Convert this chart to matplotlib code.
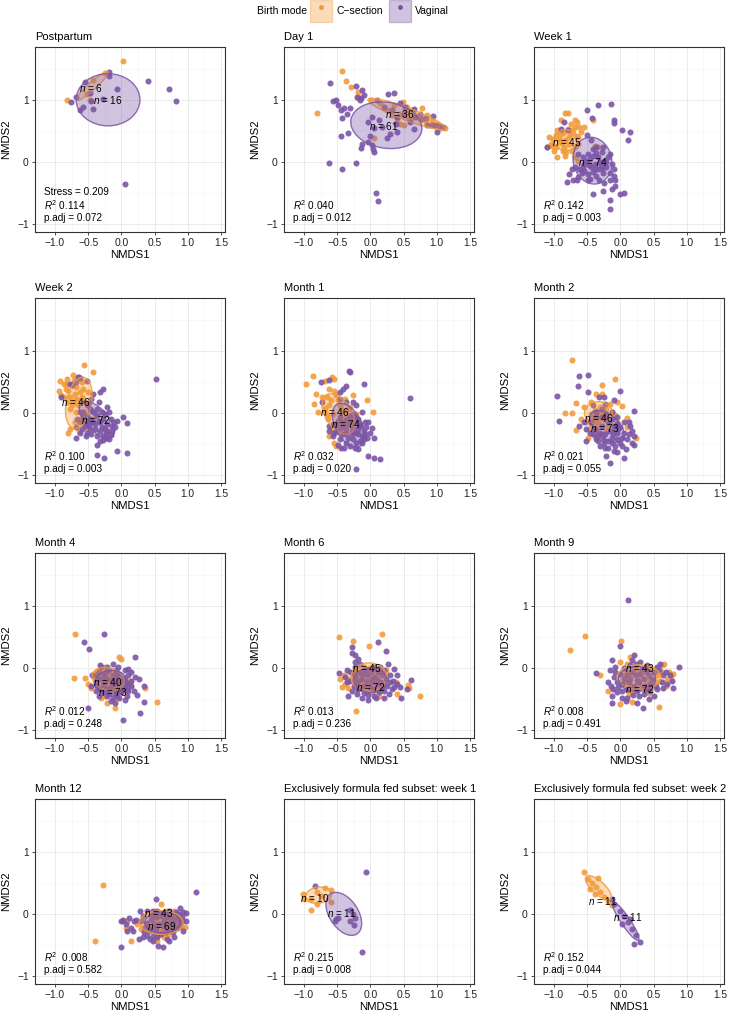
import matplotlib
matplotlib.use("Agg")
import matplotlib.pyplot as plt
from matplotlib.patches import Ellipse, Patch
from matplotlib.lines import Line2D
from matplotlib.legend_handler import HandlerTuple

plt.rcParams['font.family'] = ['Liberation Sans', 'DejaVu Sans']
plt.rcParams['mathtext.fontset'] = 'custom'
plt.rcParams['mathtext.rm'] = 'Liberation Sans'
plt.rcParams['mathtext.it'] = 'Liberation Sans:italic'

ORANGE = '#F39B3A'
PURPLE = '#7B55A6'

titles = ['Postpartum', 'Day 1', 'Week 1', 'Week 2', 'Month 1', 'Month 2',
          'Month 4', 'Month 6', 'Month 9', 'Month 12',
          'Exclusively formula fed subset: week 1',
          'Exclusively formula fed subset: week 2']

r2 = ['0.114', '0.040', '0.142', '0.100', '0.032', '0.021',
      '0.012', '0.013', '0.008', '0.008', '0.215', '0.152']
padj = ['0.072', '0.012', '0.003', '0.003', '0.020', '0.055',
        '0.248', '0.236', '0.491', '0.582', '0.008', '0.044']
stress = '0.209'
n_cs = [6, 36, 45, 46, 46, 46, 40, 45, 43, 43, 10, 11]
n_vag = [16, 61, 74, 72, 74, 73, 73, 72, 72, 69, 11, 11]

# C-section / vaginal points per panel (NMDS1, NMDS2)
pp_cs = [(0.02, 1.63), (-0.82, 1.0), (-0.42, 1.32), (-0.24, 1.43), (-0.51, 1.09), (-0.47, 1.0)]
pp_vag = [(-0.76, 0.97), (-0.55, 1.29), (-0.18, 1.45), (-0.18, 1.38), (-0.07, 1.17), (0.40, 1.30),
          (0.71, 1.18), (0.82, 0.98), (0.06, -0.35), (-0.63, 0.84), (-0.58, 0.88), (-0.43, 0.85),
          (-0.47, 1.11), (-0.45, 0.98), (-0.28, 1.02), (-0.68, 1.04)]

d1_cs = [(-0.42, 1.46), (-0.36, 1.31), (-0.29, 1.20), (-0.19, 1.12), (-0.19, 1.03), (-0.81, 0.78),
         (0.05, 0.38), (0.01, 1.0), (0.49, 0.97), (0.78, 0.87), (0.55, 0.88), (0.45, 0.77),
         (0.40, 0.69), (0.65, 0.77), (0.85, 0.75), (0.93, 0.68), (1.0, 0.61), (1.08, 0.56),
         (1.12, 0.55), (1.05, 0.54), (0.97, 0.58), (0.83, 0.64), (0.75, 0.69), (0.70, 0.72),
         (0.60, 0.67), (0.50, 0.59), (0.45, 0.61), (0.33, 0.75), (0.25, 0.83), (0.15, 0.94),
         (0.55, 0.80), (0.62, 0.84), (0.35, 0.91), (0.57, 0.72), (0.90, 0.60), (0.78, 0.71)]
d1_vag = [(-0.61, 1.27), (-0.56, 0.98), (-0.51, 0.99), (-0.49, 0.91), (-0.44, 0.84), (-0.40, 0.87),
          (-0.42, 0.70), (-0.35, 0.77), (-0.30, 0.87), (-0.22, 1.22), (-0.12, 1.16), (-0.09, 1.08),
          (-0.14, 1.03), (-0.44, 0.41), (-0.33, 0.47), (-0.63, -0.02), (-0.42, -0.12), (-0.21, -0.02),
          (-0.14, 0.22), (-0.12, 0.28), (-0.04, 0.32), (-0.01, 0.42), (0.02, 0.27), (0.05, 0.16),
          (0.04, 0.21), (0.08, -0.50), (0.11, -0.63), (-0.03, 0.64), (0.05, 0.54), (0.17, 0.56),
          (0.25, 0.38), (0.29, 0.45), (0.26, 1.10), (0.36, 1.11), (0.45, 0.94), (0.52, 0.89),
          (0.65, 0.85), (0.67, 0.72), (0.78, 0.69), (0.83, 0.71), (0.95, 0.74), (0.93, 0.59),
          (1.03, 0.57), (0.98, 0.60), (1.09, 0.56), (0.38, 0.61), (0.60, 0.64), (0.50, 0.77),
          (0.33, 0.83), (0.20, 0.88), (0.10, 0.99), (-0.20, 1.04), (0.85, 0.59), (0.75, 0.77),
          (0.40, 0.72), (0.13, 0.67), (0.03, 0.72), (-0.15, 0.99), (0.40, 0.48), (0.65, 0.53),
          (1.0, 0.48)]

w1_cs = [(-0.84, 0.78), (-0.79, 0.79), (-0.65, 0.64), (-0.41, 0.67), (-0.90, 0.67), (-1.08, 0.40),
         (-1.10, 0.24), (-1.05, 0.29), (-0.97, 0.24), (-0.95, 0.08), (-0.87, 0.18), (-0.82, 0.16),
         (-0.90, 0.45), (-0.79, 0.53), (-0.72, 0.51), (-0.69, 0.56), (-0.75, 0.45), (-0.84, 0.35),
         (-0.77, 0.29), (-0.69, 0.24), (-0.64, 0.29), (-0.85, 0.24), (-0.91, 0.32), (-1.01, 0.37),
         (-0.78, 0.40), (-0.64, 0.40), (-0.59, 0.48), (-0.85, 0.48), (-0.95, 0.51), (-0.97, 0.43),
         (-0.73, 0.17), (-1.0, 0.18), (-0.64, 0.02), (-0.68, 0.08), (-0.38, 0.25), (-0.34, 0.24),
         (-0.69, 0.68), (-0.75, 0.61), (-0.67, 0.41), (-0.62, 0.56), (-0.83, 0.10), (-1.03, 0.25),
         (-0.54, 0.56), (-0.92, 0.36), (-0.88, 0.30)]
w1_vag = [(-0.50, 0.83), (-0.34, 0.92), (-0.14, 0.93), (-0.42, 0.71), (-0.10, 0.68), (-0.10, 0.62),
          (0.02, 0.52), (0.14, 0.48), (0.12, 0.35), (-0.85, 0.64), (-0.79, 0.51), (-0.90, 0.53),
          (-1.10, 0.24), (-0.50, 0.44), (-0.44, 0.35), (-0.36, 0.24), (-0.18, 0.08), (-0.13, -0.04),
          (-0.10, -0.11), (-0.15, -0.18), (-0.26, -0.18), (-0.33, -0.11), (-0.44, -0.09), (-0.54, -0.03),
          (-0.62, -0.11), (-0.58, -0.18), (-0.64, -0.25), (-0.77, -0.19), (-0.81, -0.33), (-0.72, -0.30),
          (-0.65, -0.30), (-0.49, -0.30), (-0.41, -0.51), (-0.24, -0.34), (-0.26, -0.47), (-0.13, -0.44),
          (-0.08, -0.39), (-0.16, -0.61), (-0.15, -0.76), (-0.01, -0.52), (0.06, -0.50), (-0.08, -0.29),
          (-0.15, 0.13), (-0.24, 0.02), (-0.33, 0.08), (-0.41, 0.10), (-0.49, 0.13), (-0.51, 0.02),
          (-0.46, 0.05), (-0.38, -0.03), (-0.29, -0.06), (-0.21, -0.09), (-0.41, -0.17), (-0.36, -0.22),
          (-0.49, -0.19), (-0.56, -0.09), (-0.56, 0.08), (-0.64, 0.13), (-0.54, -0.15), (-0.26, 0.24),
          (-0.28, 0.16), (-0.41, 0.21), (-0.15, -0.30), (-0.32, -0.30), (-0.09, -0.22), (-0.36, 0.14),
          (-0.21, -0.01), (-0.45, -0.28), (-0.69, -0.09), (-0.73, -0.11), (-0.27, -0.11), (-0.38, -0.11),
          (-0.30, 0.00), (-0.47, -0.05)]

w2_cs = [(-0.56, 0.77), (-0.42, 0.66), (-0.82, 0.55), (-0.93, 0.51), (-0.86, 0.47), (-0.72, 0.53),
         (-0.94, 0.36), (-0.91, 0.28), (-0.83, 0.39), (-0.75, 0.45), (-0.68, 0.42), (-0.63, 0.34),
         (-0.70, 0.31), (-0.78, 0.26), (-0.73, 0.17), (-0.60, 0.26), (-0.65, 0.12), (-0.78, 0.07),
         (-0.52, 0.12), (-0.57, 0.01), (-0.63, -0.10), (-0.55, -0.13), (-0.70, -0.15), (-0.81, -0.32),
         (-0.64, -0.30), (-0.77, -0.26), (-0.51, -0.04), (-0.47, -0.15), (-0.68, 0.01), (-0.81, 0.35),
         (-0.86, 0.26), (-0.60, 0.50), (-0.64, 0.58), (-0.73, 0.61), (-0.57, 0.39), (-0.50, 0.34),
         (-0.75, 0.12), (-0.55, 0.17), (-0.45, 0.04), (-0.69, 0.23), (-0.81, 0.17), (-0.63, 0.20),
         (-0.39, -0.07), (-0.52, -0.25), (-0.58, -0.18), (-0.83, 0.47)]
w2_vag = [(0.52, 0.54), (-0.65, 0.58), (-0.62, 0.56), (-0.51, 0.52), (-0.78, 0.46), (-0.91, 0.26),
          (-0.32, 0.34), (-0.27, 0.39), (-0.42, 0.31), (-0.45, 0.23), (-0.34, 0.17), (-0.22, 0.09),
          (-0.29, 0.01), (-0.37, -0.04), (-0.47, 0.07), (-0.52, -0.07), (-0.42, -0.15), (-0.32, -0.15),
          (-0.22, -0.18), (-0.11, -0.15), (-0.07, -0.13), (0.02, -0.07), (0.08, -0.17), (-0.09, -0.23),
          (-0.14, -0.29), (-0.23, -0.34), (-0.23, -0.40), (-0.27, -0.43), (-0.19, -0.42), (-0.37, -0.37),
          (-0.45, -0.34), (-0.52, -0.32), (-0.60, -0.26), (-0.68, -0.23), (-0.69, -0.40), (-0.63, -0.32),
          (-0.55, -0.21), (-0.48, -0.20), (-0.39, -0.26), (-0.32, -0.29), (-0.37, -0.51), (-0.36, -0.68),
          (-0.26, -0.72), (-0.06, -0.61), (0.09, -0.64), (-0.22, -0.30), (-0.28, -0.10), (-0.37, 0.07),
          (-0.50, 0.12), (-0.57, 0.01), (-0.67, -0.10), (-0.63, -0.15), (-0.47, -0.10), (-0.39, -0.18),
          (-0.52, -0.15), (-0.24, -0.26), (-0.29, -0.23), (-0.34, -0.13), (-0.16, -0.10), (-0.24, -0.02),
          (-0.19, 0.01), (-0.42, 0.01), (-0.57, -0.07), (-0.63, 0.01), (-0.75, 0.45), (-0.68, 0.50),
          (-0.27, -0.37), (-0.16, -0.36), (-0.47, -0.26), (-0.53, -0.37), (-0.32, -0.45), (-0.14, -0.21)]

m1_cs = [(-0.86, 0.59), (-0.97, 0.46), (-0.57, 0.58), (-0.54, 0.55), (-0.68, 0.51), (-0.82, 0.31),
         (-0.63, 0.39), (-0.54, 0.35), (-0.51, 0.28), (-0.85, 0.15), (-0.79, 0.02), (-0.68, 0.08),
         (-0.26, 0.29), (-0.05, 0.21), (0.04, 0.01), (-0.64, -0.10), (-0.59, -0.26), (-0.54, -0.48),
         (-0.52, -0.53), (-0.46, 0.12), (-0.41, 0.01), (-0.33, 0.07), (-0.26, -0.02), (-0.36, -0.07),
         (-0.46, -0.10), (-0.56, -0.02), (-0.62, 0.12), (-0.69, 0.01), (-0.59, 0.20), (-0.49, 0.20),
         (-0.41, -0.15), (-0.28, -0.15), (-0.51, -0.21), (-0.46, -0.32), (-0.31, 0.09), (-0.23, -0.10),
         (-0.38, 0.23), (-0.66, 0.26), (-0.73, 0.26), (-0.52, 0.30), (-0.15, -0.21), (-0.62, -0.37),
         (-0.35, -0.02), (-0.44, 0.07), (-0.64, -0.03), (-0.21, -0.02)]
m1_vag = [(-0.32, 0.67), (-0.31, 0.65), (-0.09, 0.46), (-0.74, 0.50), (-0.63, 0.53), (-0.36, 0.43),
          (0.60, 0.24), (-0.73, 0.18), (-0.46, 0.23), (-0.36, 0.17), (-0.31, -0.07), (-0.23, -0.15),
          (-0.15, -0.21), (-0.08, -0.15), (0.03, -0.25), (0.05, -0.40), (-0.05, -0.41), (-0.13, -0.37),
          (-0.21, -0.32), (-0.28, -0.29), (-0.36, -0.26), (-0.44, -0.25), (-0.51, -0.20), (-0.63, -0.29),
          (-0.56, -0.37), (-0.46, -0.42), (-0.44, -0.56), (-0.40, -0.56), (-0.31, -0.53), (-0.23, -0.56),
          (-0.18, -0.58), (-0.21, -0.48), (-0.13, -0.48), (-0.26, -0.42), (-0.33, -0.40), (-0.41, -0.34),
          (-0.03, -0.70), (0.05, -0.73), (0.15, -0.74), (-0.21, -0.90), (-0.51, -0.29), (-0.44, -0.15),
          (-0.37, -0.11), (-0.28, -0.03), (-0.18, -0.10), (-0.10, -0.29), (-0.18, -0.34), (-0.26, -0.23),
          (-0.33, -0.18), (-0.41, -0.20), (-0.49, -0.13), (-0.56, -0.18), (-0.13, 0.01), (-0.21, 0.12),
          (-0.26, 0.17), (-0.46, 0.34), (-0.41, 0.38), (-0.03, -0.15), (0.0, -0.32), (-0.09, -0.42),
          (-0.36, -0.48), (-0.49, -0.51), (-0.15, -0.45), (-0.27, -0.34), (-0.37, -0.32), (-0.18, -0.26),
          (-0.23, -0.07), (-0.31, -0.15), (-0.15, -0.18), (-0.46, -0.07), (-0.54, -0.32), (-0.62, -0.21),
          (-0.08, -0.34), (-0.06, -0.23)]

m2_cs = [(-0.73, 0.85), (-0.08, 0.54), (-0.27, 0.45), (-0.67, 0.16), (-0.83, -0.01), (-0.73, -0.01),
         (-0.67, -0.27), (-0.36, 0.31), (-0.28, 0.30), (-0.44, 0.18), (-0.55, 0.09), (-0.59, -0.10),
         (-0.49, -0.13), (-0.44, -0.20), (-0.38, -0.15), (-0.33, -0.07), (-0.26, -0.02), (-0.21, 0.07),
         (-0.13, 0.02), (-0.08, -0.04), (0.03, 0.11), (0.10, -0.09), (0.10, -0.23), (0.23, -0.40),
         (-0.38, 0.05), (-0.44, -0.02), (-0.35, -0.23), (-0.49, -0.40), (-0.28, -0.34), (-0.21, -0.29),
         (-0.15, -0.15), (-0.33, -0.15), (-0.41, -0.07), (-0.31, 0.09), (-0.15, 0.15), (-0.05, 0.17),
         (-0.36, -0.29), (-0.52, -0.15), (-0.25, -0.10), (-0.18, -0.21), (-0.10, -0.26), (-0.38, -0.37),
         (-0.05, -0.15), (-0.23, -0.02), (-0.46, -0.26), (-0.33, 0.01)]
m2_vag = [(-0.63, 0.59), (-0.48, 0.61), (-0.64, 0.43), (-0.95, 0.27), (-0.93, -0.13), (-0.49, 0.34),
          (-0.32, 0.25), (-0.01, 0.36), (-0.10, 0.20), (0.21, 0.03), (-0.23, 0.15), (-0.21, -0.02),
          (-0.28, -0.07), (-0.36, -0.07), (-0.44, -0.14), (-0.52, -0.26), (-0.51, -0.45), (-0.37, -0.42),
          (-0.33, -0.45), (-0.25, -0.48), (-0.23, -0.56), (-0.13, -0.49), (-0.08, -0.53), (-0.18, -0.45),
          (-0.05, -0.42), (0.03, -0.40), (0.05, -0.32), (0.13, -0.34), (0.18, -0.29), (0.21, -0.37),
          (0.18, -0.48), (0.21, -0.51), (0.08, -0.59), (0.06, -0.72), (-0.05, -0.63), (-0.21, -0.70),
          (-0.15, -0.80), (-0.10, -0.61), (-0.21, -0.07), (-0.13, -0.10), (-0.05, -0.18), (0.0, -0.23),
          (-0.10, -0.21), (-0.15, -0.29), (-0.23, -0.34), (-0.31, -0.32), (-0.38, -0.26), (-0.46, -0.32),
          (-0.28, -0.21), (-0.19, -0.15), (-0.11, -0.34), (-0.05, -0.32), (0.0, -0.48), (0.10, -0.42),
          (-0.13, -0.40), (-0.26, -0.42), (-0.18, -0.56), (-0.36, 0.01), (-0.28, 0.07), (-0.41, 0.12),
          (-0.25, 0.25), (-0.13, 0.01), (0.05, -0.15), (-0.05, -0.07), (-0.54, -0.15), (-0.33, -0.38),
          (-0.03, -0.26), (0.15, -0.21), (-0.41, -0.34), (-0.31, -0.53), (0.03, -0.53), (0.13, -0.15),
          (-0.62, -0.21)]

m4_cs = [(-0.70, 0.54), (-0.72, -0.17), (-0.55, -0.17), (-0.50, -0.26), (-0.46, -0.33), (-0.03, 0.17),
         (0.0, 0.14), (0.54, -0.55), (-0.08, -0.49), (-0.10, -0.64), (-0.22, -0.56), (-0.38, -0.07),
         (-0.33, -0.12), (-0.28, -0.07), (-0.23, -0.10), (-0.18, -0.12), (-0.10, -0.17), (-0.05, -0.21),
         (-0.15, -0.23), (-0.23, -0.29), (-0.31, -0.34), (-0.13, -0.34), (0.0, -0.29), (0.13, -0.21),
         (0.14, -0.29), (0.36, -0.33), (0.04, -0.38), (-0.05, -0.42), (-0.28, -0.21), (-0.36, -0.23),
         (-0.41, -0.15), (-0.33, -0.04), (-0.10, -0.07), (-0.24, -0.45), (-0.18, -0.39), (-0.31, -0.48),
         (0.05, -0.18), (-0.22, -0.18), (-0.38, -0.23), (-0.26, 0.01)]
m4_vag = [(-0.26, 0.54), (-0.56, 0.41), (-0.49, 0.31), (-0.32, 0.05), (0.21, 0.17), (0.06, -0.03),
          (0.10, -0.12), (-0.50, -0.65), (0.02, -0.84), (0.28, -0.72), (0.34, -0.29), (0.34, -0.55),
          (0.24, -0.44), (0.19, -0.38), (0.08, -0.45), (0.05, -0.51), (-0.03, -0.48), (-0.10, -0.57),
          (-0.13, -0.49), (-0.22, -0.45), (-0.33, -0.34), (-0.38, -0.23), (-0.44, -0.12), (-0.38, -0.11),
          (-0.33, -0.07), (-0.23, -0.07), (-0.18, -0.04), (-0.13, -0.11), (-0.08, -0.04), (-0.03, -0.10),
          (-0.02, -0.21), (-0.08, -0.26), (-0.15, -0.30), (-0.23, -0.34), (-0.28, -0.39), (-0.18, -0.42),
          (-0.10, -0.37), (0.03, -0.31), (0.08, -0.26), (0.04, -0.21), (0.15, -0.21), (-0.05, 0.01),
          (-0.13, 0.06), (-0.21, 0.01), (-0.28, -0.17), (-0.33, -0.18), (-0.24, -0.23), (-0.14, -0.19),
          (-0.05, -0.34), (0.10, -0.37), (0.0, -0.39), (-0.36, -0.29), (-0.27, -0.28), (-0.21, -0.18),
          (-0.09, -0.18), (-0.38, -0.37), (-0.46, -0.29), (-0.15, -0.53), (-0.08, -0.44), (0.10, -0.02),
          (0.15, -0.07), (0.21, -0.15), (0.26, -0.18), (-0.03, -0.23), (-0.31, 0.01), (-0.26, -0.12),
          (-0.13, -0.26), (0.02, -0.17), (-0.19, -0.34), (-0.33, -0.45), (0.15, -0.29), (-0.07, -0.11),
          (0.08, -0.34)]

m6_cs = [(-0.47, 0.50), (-0.26, 0.43), (0.18, 0.55), (-0.02, 0.35), (-0.22, -0.69), (0.74, -0.45),
         (0.57, -0.28), (0.58, -0.33), (0.40, -0.42), (0.38, -0.23), (0.23, -0.03), (0.24, -0.10),
         (-0.43, -0.31), (-0.38, -0.26), (-0.33, -0.32), (-0.39, -0.12), (-0.34, -0.18), (-0.26, -0.07),
         (-0.20, -0.11), (-0.14, -0.17), (-0.08, -0.07), (-0.03, -0.12), (0.03, -0.18), (0.08, -0.11),
         (0.13, -0.21), (0.15, -0.29), (0.10, -0.35), (0.04, -0.33), (-0.03, -0.29), (-0.10, -0.22),
         (-0.15, -0.26), (-0.23, -0.23), (-0.28, -0.17), (-0.18, -0.02), (-0.10, 0.01), (0.0, -0.01),
         (0.09, -0.03), (0.15, -0.07), (-0.05, -0.37), (-0.13, -0.34), (0.03, -0.39), (0.13, -0.45),
         (-0.45, -0.18), (0.20, -0.23), (-0.20, -0.34)]
m6_vag = [(0.12, 0.41), (-0.28, 0.34), (-0.27, 0.24), (-0.23, 0.20), (0.24, 0.27), (0.26, 0.06),
          (0.36, -0.02), (0.40, -0.12), (0.61, -0.19), (-0.47, -0.08), (-0.35, -0.03), (-0.33, -0.45),
          (-0.04, -0.51), (0.09, -0.48), (0.32, -0.34), (0.44, -0.31), (0.46, -0.48), (0.55, -0.34),
          (0.28, -0.42), (0.20, -0.38), (0.13, -0.39), (0.05, -0.45), (-0.03, -0.44), (-0.10, -0.41),
          (-0.18, -0.34), (-0.25, -0.29), (-0.30, -0.21), (-0.23, -0.15), (-0.16, -0.08), (-0.10, -0.03),
          (-0.05, -0.11), (0.01, -0.07), (0.06, -0.14), (0.11, -0.07), (0.18, -0.12), (0.24, -0.18),
          (0.29, -0.23), (0.34, -0.21), (0.25, -0.29), (0.18, -0.31), (0.10, -0.26), (0.03, -0.23),
          (-0.05, -0.21), (-0.13, -0.18), (-0.20, -0.23), (-0.25, -0.10), (-0.30, -0.07), (-0.38, -0.15),
          (-0.18, -0.21), (-0.09, -0.29), (-0.01, -0.31), (0.06, -0.34), (0.15, -0.23), (0.21, -0.03),
          (0.14, 0.01), (0.05, 0.01), (-0.16, 0.06), (-0.23, 0.01), (0.35, -0.31), (0.40, -0.26),
          (-0.20, -0.42), (-0.13, -0.48), (-0.28, -0.38), (-0.06, -0.04), (0.03, -0.18), (0.10, -0.18),
          (-0.13, -0.10), (-0.35, -0.23), (0.30, -0.11), (0.20, -0.48), (-0.23, 0.09), (-0.18, 0.15)]

m9_cs = [(-0.76, 0.29), (-0.53, 0.51), (0.01, 0.44), (-0.31, -0.11), (-0.18, -0.37), (0.0, -0.58),
         (0.18, -0.55), (0.58, -0.63), (0.14, 0.17), (0.66, 0.06), (0.63, 0.05), (0.73, -0.06),
         (0.76, -0.18), (0.68, -0.29), (0.60, -0.21), (0.53, -0.23), (0.45, -0.18), (0.40, -0.26),
         (0.33, -0.15), (0.25, -0.07), (0.18, -0.12), (0.10, -0.07), (0.04, -0.12), (0.08, -0.23),
         (0.15, -0.29), (0.23, -0.34), (0.30, -0.31), (0.38, -0.34), (0.48, -0.31), (0.55, -0.12),
         (0.63, -0.07), (0.50, -0.02), (0.43, 0.01), (0.35, -0.02), (-0.01, 0.09), (0.10, 0.06),
         (0.20, 0.01), (0.25, -0.23), (0.18, -0.37), (0.70, -0.18), (0.79, -0.10), (0.43, -0.40),
         (0.13, -0.42)]
m9_vag = [(0.11, 1.10), (0.0, 0.36), (-0.36, -0.08), (-0.13, 0.12), (0.20, 0.20), (0.88, 0.01),
          (0.79, -0.33), (0.34, -0.65), (-0.13, -0.46), (-0.13, -0.56), (0.08, -0.53), (-0.15, -0.04),
          (-0.08, -0.07), (-0.10, -0.15), (-0.05, -0.23), (-0.04, -0.31), (0.03, -0.38), (0.10, -0.34),
          (0.20, -0.29), (0.28, -0.23), (0.35, -0.18), (0.43, -0.11), (0.50, -0.07), (0.58, -0.04),
          (0.64, -0.11), (0.69, -0.06), (0.75, -0.11), (0.78, -0.21), (0.64, -0.33), (0.55, -0.34),
          (0.45, -0.38), (0.35, -0.42), (0.28, -0.45), (0.19, -0.44), (0.10, -0.48), (0.03, -0.48),
          (0.15, -0.18), (0.23, -0.12), (0.30, -0.10), (0.38, -0.07), (0.45, -0.26), (0.53, -0.29),
          (0.35, -0.29), (0.25, -0.37), (0.13, -0.23), (0.05, -0.18), (-0.01, -0.10), (0.06, -0.01),
          (0.14, 0.04), (0.23, 0.06), (0.30, 0.09), (0.40, 0.05), (0.60, 0.06), (0.55, 0.01),
          (0.48, -0.18), (0.25, -0.20), (0.18, -0.07), (0.10, -0.11), (0.03, -0.26), (-0.05, -0.39),
          (-0.14, -0.30), (-0.08, 0.01), (0.40, -0.34), (0.70, -0.26), (0.63, -0.23), (0.50, -0.45),
          (0.43, -0.50), (0.33, -0.02), (-0.18, -0.23), (-0.11, -0.34), (0.18, 0.12), (0.25, -0.56)]

m12_cs = [(-0.27, 0.46), (-0.39, -0.43), (0.15, -0.43), (0.07, -0.22), (0.03, -0.11), (0.08, -0.12),
          (0.60, 0.16), (0.96, -0.21), (0.92, -0.21), (0.54, -0.43), (0.44, 0.03), (0.52, 0.03),
          (0.59, 0.0), (0.67, -0.03), (0.74, 0.0), (0.79, -0.05), (0.84, -0.11), (0.89, -0.15),
          (0.77, -0.16), (0.69, -0.14), (0.62, -0.11), (0.54, -0.08), (0.47, -0.11), (0.39, -0.16),
          (0.33, -0.21), (0.42, -0.24), (0.49, -0.27), (0.58, -0.30), (0.67, -0.27), (0.74, -0.24),
          (0.82, -0.22), (0.84, -0.03), (0.79, 0.05), (0.69, 0.05), (0.62, -0.24), (0.53, -0.35),
          (0.64, -0.38), (0.24, -0.16), (0.29, -0.24), (0.72, -0.32), (0.89, -0.07), (0.54, -0.19),
          (0.69, -0.06)]
m12_vag = [(1.13, 0.36), (0.52, 0.24), (0.0, -0.54), (0.02, -0.10), (0.11, -0.07), (0.22, -0.10),
           (0.28, 0.04), (0.38, 0.04), (0.48, 0.05), (0.47, -0.43), (0.55, -0.51), (0.63, -0.54),
           (0.27, -0.41), (0.17, -0.27), (0.89, 0.10), (0.93, 0.03), (0.98, 0.01), (0.92, -0.05),
           (0.93, -0.27), (0.83, -0.22), (0.74, -0.24), (0.67, -0.30), (0.59, -0.32), (0.52, -0.27),
           (0.44, -0.22), (0.38, -0.15), (0.44, -0.08), (0.52, -0.05), (0.59, -0.03), (0.67, -0.05),
           (0.74, -0.11), (0.82, -0.08), (0.87, 0.0), (0.82, 0.03), (0.72, 0.05), (0.64, 0.03),
           (0.57, -0.16), (0.49, -0.16), (0.42, -0.27), (0.34, -0.30), (0.39, -0.35), (0.47, -0.35),
           (0.54, -0.38), (0.62, -0.19), (0.69, -0.19), (0.77, -0.16), (0.78, -0.30), (0.87, -0.19),
           (0.69, -0.41), (0.30, -0.11), (0.33, -0.03), (0.54, 0.05), (0.92, -0.11), (0.97, -0.11),
           (0.14, -0.22), (0.09, -0.27), (0.75, -0.03), (0.47, -0.03), (0.64, -0.11), (0.52, -0.22),
           (0.43, -0.41), (0.32, -0.38), (0.79, -0.38), (0.19, -0.11), (0.35, -0.22), (0.07, -0.16),
           (0.72, -0.43), (0.89, -0.14), (-0.01, -0.11)]

f1_cs = [(-1.01, 0.32), (-0.69, 0.42), (-0.60, 0.38), (-1.0, 0.24), (-0.90, 0.24), (-0.80, 0.35),
         (-0.81, 0.16), (-0.90, 0.07), (-0.59, 0.19), (-0.73, 0.28)]
f1_vag = [(-0.84, 0.45), (-0.07, 0.68), (-0.13, -0.61), (-0.53, -0.11), (-0.49, -0.06), (-0.31, 0.07),
          (-0.30, -0.11), (-0.23, -0.07), (-0.24, -0.18), (-0.26, 0.0), (-0.51, -0.08)]

f2_cs = [(-0.54, 0.68), (-0.49, 0.56), (-0.43, 0.50), (-0.36, 0.43), (-0.30, 0.35), (-0.24, 0.27),
         (-0.46, 0.40), (-0.34, 0.58), (-0.19, 0.21), (-0.13, 0.14), (-0.38, 0.32)]
f2_vag = [(-0.09, 0.16), (-0.01, 0.04), (0.06, -0.04), (0.11, -0.13), (0.17, -0.25), (0.23, -0.34),
          (0.29, -0.46), (0.14, -0.09), (0.02, -0.17), (-0.13, 0.24), (0.21, -0.49)]

cs_points = [pp_cs, d1_cs, w1_cs, w2_cs, m1_cs, m2_cs, m4_cs, m6_cs, m9_cs, m12_cs, f1_cs, f2_cs]
vag_points = [pp_vag, d1_vag, w1_vag, w2_vag, m1_vag, m2_vag, m4_vag, m6_vag, m9_vag, m12_vag, f1_vag, f2_vag]

# ellipses: (centre x, centre y, full width, full height, angle in degrees)
cs_ellipse = [(-0.44, 1.22, 0.66, 0.12, 44), (0.55, 0.77, 1.26, 0.2, -22), (-0.82, 0.35, 0.36, 0.34, 0),
              (-0.64, 0.16, 0.38, 0.84, -10), (-0.48, -0.02, 0.72, 0.40, -60), (-0.33, 0.0, 0.42, 0.36, 0),
              (-0.20, -0.18, 0.50, 0.36, -20), (-0.02, -0.15, 0.54, 0.46, 0), (0.28, -0.15, 0.66, 0.40, 0),
              (0.60, -0.14, 0.66, 0.38, 0), (-0.78, 0.30, 0.40, 0.26, 10), (-0.33, 0.42, 0.52, 0.2, -45)]
vag_ellipse = [(-0.20, 1.0, 0.96, 0.84, 0), (0.24, 0.59, 1.08, 0.74, -10), (-0.42, 0.02, 0.58, 0.76, 10),
               (-0.37, -0.11, 0.72, 0.34, -50), (-0.33, -0.20, 0.76, 0.40, -65), (-0.20, -0.22, 0.64, 0.36, -45),
               (-0.15, -0.24, 0.50, 0.40, 0), (0.0, -0.20, 0.50, 0.40, 0), (0.25, -0.18, 0.56, 0.40, 0),
               (0.62, -0.14, 0.54, 0.34, 0), (-0.40, 0.0, 0.76, 0.44, -60), (0.08, -0.12, 0.72, 0.14, -58)]

# n label positions (group centroids)
cs_label = [(-0.45, 1.19), (0.44, 0.77), (-0.80, 0.32), (-0.68, 0.17), (-0.54, 0.01), (-0.33, -0.08),
            (-0.20, -0.23), (-0.05, -0.01), (0.29, -0.01), (0.56, 0.01), (-0.83, 0.26), (-0.27, 0.21)]
vag_label = [(-0.20, 1.0), (0.20, 0.58), (-0.42, 0.0), (-0.39, -0.11), (-0.37, -0.18), (-0.24, -0.25),
             (-0.13, -0.39), (0.0, -0.31), (0.29, -0.34), (0.61, -0.19), (-0.43, 0.02), (0.11, -0.05)]

fig = plt.figure(figsize=(7.3, 10.17), dpi=100)
W, H = 730, 1017
col_left = [35, 284, 534]
row_top = [47, 298, 553, 799]
aw, ah = 190, 185

for i in range(12):
    r, c = divmod(i, 3)
    ax = fig.add_axes([col_left[c] / W, 1 - (row_top[r] + ah) / H, aw / W, ah / H])
    ax.set_xlim(-1.3, 1.56)
    ax.set_ylim(-1.13, 1.85)
    ax.set_xticks([-1.0, -0.5, 0.0, 0.5, 1.0, 1.5])
    ax.set_xticklabels(['\u22121.0', '\u22120.5', '0.0', '0.5', '1.0', '1.5'])
    ax.set_yticks([-1, 0, 1])
    ax.set_yticklabels(['\u22121', '0', '1'])
    ax.set_xticks([-1.25, -0.75, -0.25, 0.25, 0.75, 1.25], minor=True)
    ax.set_yticks([-0.5, 0.5, 1.5], minor=True)
    ax.grid(which='major', color='#EBEBEB', linewidth=0.7)
    ax.grid(which='minor', color='#F4F4F4', linewidth=0.4)
    ax.set_axisbelow(True)
    ax.tick_params(which='minor', length=0)
    ax.tick_params(which='major', length=2.5, width=0.6, color='#333333', labelsize=7.4,
                   labelcolor='#222222', pad=2)
    for s in ax.spines.values():
        s.set_color('#333333')
        s.set_linewidth(0.8)

    cx = [p[0] for p in cs_points[i]]
    cy = [p[1] for p in cs_points[i]]
    vx = [p[0] for p in vag_points[i]]
    vy = [p[1] for p in vag_points[i]]
    ax.scatter(cx, cy, s=19, color=ORANGE, alpha=0.9, linewidths=0, zorder=2)
    ax.scatter(vx, vy, s=19, color=PURPLE, alpha=0.9, linewidths=0, zorder=2)

    for e, col in ((cs_ellipse[i], ORANGE), (vag_ellipse[i], PURPLE)):
        ax.add_patch(Ellipse((e[0], e[1]), e[2], e[3], angle=e[4], facecolor=col, alpha=0.35,
                             edgecolor='none', zorder=3))
        ax.add_patch(Ellipse((e[0], e[1]), e[2], e[3], angle=e[4], facecolor='none',
                             edgecolor=col, linewidth=1.0, alpha=0.85, zorder=3))

    ax.text(cs_label[i][0], cs_label[i][1], '$n$ = %d' % n_cs[i], fontsize=7.2,
            ha='center', va='center', zorder=4)
    ax.text(vag_label[i][0], vag_label[i][1], '$n$ = %d' % n_vag[i], fontsize=7.2,
            ha='center', va='center', zorder=4)

    if i == 0:
        ax.text(0.047, 0.215, 'Stress = ' + stress, transform=ax.transAxes, fontsize=7.2, va='center')
    r2_sep = '  ' if i == 9 else ' '
    ax.text(0.047, 0.145, '$R^2$' + r2_sep + r2[i], transform=ax.transAxes, fontsize=7.2, va='center')
    ax.text(0.047, 0.075, 'p.adj = ' + padj[i], transform=ax.transAxes, fontsize=7.2, va='center')

    ax.set_title(titles[i], loc='left', fontsize=8, pad=5)
    ax.set_xlabel('NMDS1', fontsize=8.2, labelpad=1.5)
    ax.set_ylabel('NMDS2', fontsize=8.2, labelpad=4)

# legend on top
fig.text(257 / W, 1 - 11 / H, 'Birth mode', fontsize=7.5, ha='left', va='center')
handles = [(Patch(facecolor=ORANGE, alpha=0.35, edgecolor=ORANGE, linewidth=1.0),
            Line2D([], [], marker='o', ls='', color=ORANGE, markersize=2.5)),
           (Patch(facecolor=PURPLE, alpha=0.35, edgecolor=PURPLE, linewidth=1.0),
            Line2D([], [], marker='o', ls='', color=PURPLE, markersize=2.5))]
fig.legend(handles, ['C\u2212section', 'Vaginal'], loc='center left',
           bbox_to_anchor=(304 / W, 1 - 11 / H), ncol=2, frameon=False, fontsize=7.5,
           handler_map={tuple: HandlerTuple(ndivide=1)},
           handlelength=2.1, handleheight=2.8, handletextpad=0.4, columnspacing=0.6,
           borderpad=0.1)

fig.savefig('out.png', dpi=100)
